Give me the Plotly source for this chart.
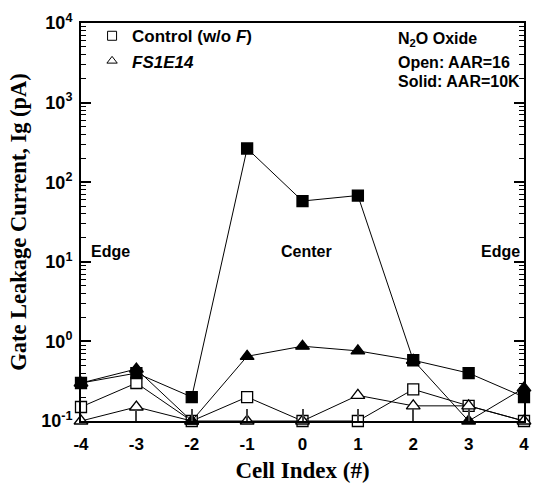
import plotly.graph_objects as go

cell_index = [-4, -3, -2, -1, 0, 1, 2, 3, 4]
control_aar16 = [0.15, 0.30, 0.10, 0.20, 0.10, 0.10, 0.25, 0.155, 0.10]
control_aar10k = [0.30, 0.40, 0.20, 265, 58, 68, 0.58, 0.40, 0.20]
fs_aar16 = [0.10, 0.15, 0.10, 0.10, 0.10, 0.21, 0.155, 0.155, 0.10]
fs_aar10k = [0.30, 0.45, 0.10, 0.65, 0.87, 0.76, 0.58, 0.10, 0.26]

ytick_vals = [0.1, 1, 10, 100, 1000, 10000]
ytick_text = ["<b>10<sup>-1</sup></b>", "<b>10<sup>0</sup></b>", "<b>10<sup>1</sup></b>",
              "<b>10<sup>2</sup></b>", "<b>10<sup>3</sup></b>", "<b>10<sup>4</sup></b>"]
xtick_vals = [-4, -3, -2, -1, 0, 1, 2, 3, 4]
xtick_text = ["<b>-4</b>", "<b>-3</b>", "<b>-2</b>", "<b>-1</b>", "<b>0</b>",
              "<b>1</b>", "<b>2</b>", "<b>3</b>", "<b>4</b>"]

# all decade ticks (major labelled, intermediate 2..9 unlabelled)
all_vals, all_text = [], []
for v, t in zip(ytick_vals, ytick_text):
    all_vals.append(v)
    all_text.append(t)
    if v < ytick_vals[-1]:
        for m in range(2, 10):
            all_vals.append(v * m)
            all_text.append("")

SANS = "Liberation Sans, Arial, sans-serif"
SERIF = "Liberation Serif, Times New Roman, serif"

fig = go.Figure()

def add_series(y, symbol, fill):
    fig.add_trace(go.Scatter(
        x=cell_index, y=y, mode="lines+markers",
        line=dict(color="black", width=1),
        marker=dict(symbol=symbol, size=11 if "square" in symbol else 12,
                    color=fill, line=dict(color="black", width=1.3)),
        showlegend=False, cliponaxis=False))

add_series(control_aar16, "square", "white")
add_series(fs_aar16, "triangle-up", "white")
add_series(fs_aar10k, "triangle-up", "black")
add_series(control_aar10k, "square", "black")

# legend entries (marker only)
fig.add_trace(go.Scatter(x=[None], y=[None], mode="markers",
                         name="<b>Control (w/o <i>F</i>)</b>",
                         marker=dict(symbol="square-open", size=9, color="black", line=dict(width=1))))
fig.add_trace(go.Scatter(x=[None], y=[None], mode="markers", name="<b><i>FS1E14</i></b>",
                         marker=dict(symbol="triangle-up-open", size=9, color="black", line=dict(width=1))))
# invisible trace anchoring the major-tick overlay axis
fig.add_trace(go.Scatter(x=cell_index, y=control_aar10k, yaxis="y2", mode="markers",
                         marker=dict(opacity=0), showlegend=False, hoverinfo="skip"))

fig.update_layout(
    width=540, height=490,
    margin=dict(l=81, r=11, t=15, b=68),
    plot_bgcolor="white", paper_bgcolor="white",
    font=dict(family=SANS, color="black"),
    showlegend=True,
    legend=dict(x=0.025, y=1.012, xanchor="left", yanchor="top",
                bgcolor="rgba(0,0,0,0)", font=dict(family=SANS, size=17),
                itemwidth=30, tracegroupgap=0),
    xaxis=dict(range=[-4, 4], tickvals=xtick_vals, ticktext=xtick_text, ticks="inside",
               ticklen=12, tickwidth=1.5, showline=True, linecolor="black", linewidth=2,
               mirror=True, showgrid=False, zeroline=False, ticklabelstandoff=7,
               tickfont=dict(family=SANS, size=17, color="black"),
               title=dict(text="<b>Cell Index (#)</b>", font=dict(family=SERIF, size=23),
                          standoff=8)),
    yaxis=dict(type="log", range=[-1, 4], tickvals=all_vals, ticktext=all_text,
               ticks="inside", ticklen=5, tickwidth=1, tickcolor="black", showline=True,
               linecolor="black", linewidth=2, mirror="allticks", showgrid=False,
               zeroline=False, ticklabelstandoff=3,
               tickfont=dict(family=SANS, size=18, color="black"),
               title=dict(text="<b>Gate Leakage Current, Ig (pA)</b>",
                          font=dict(family=SERIF, size=22.5), standoff=8)),
    yaxis2=dict(type="log", range=[-1, 4], tickvals=ytick_vals, ticks="inside", ticklen=10,
                tickwidth=1.5, tickcolor="black", showticklabels=False, showgrid=False,
                zeroline=False, showline=False, overlaying="y", side="left", anchor="x",
                mirror="allticks"),
)

ann_font = dict(family=SANS, size=16, color="black")
for txt, x, anchor in [
    ("<b>Edge</b>", -3.86, "left"),
    ("<b>Center</b>", 0.08, "center"),
    ("<b>Edge</b>", 3.97, "right"),
]:
    fig.add_annotation(x=x, y=1.13, xref="x", yref="y", text=txt, showarrow=False,
                       xanchor=anchor, yanchor="middle", font=ann_font)

for txt, yp in [("<b>N<sub>2</sub>O Oxide</b>", 0.958), ("<b>Open: AAR=16</b>", 0.9),
                ("<b>Solid: AAR=10K</b>", 0.853)]:
    fig.add_annotation(x=0.71, y=yp, xref="paper", yref="paper", text=txt, showarrow=False,
                       xanchor="left", yanchor="middle", font=ann_font)

fig.write_html("out.html")
